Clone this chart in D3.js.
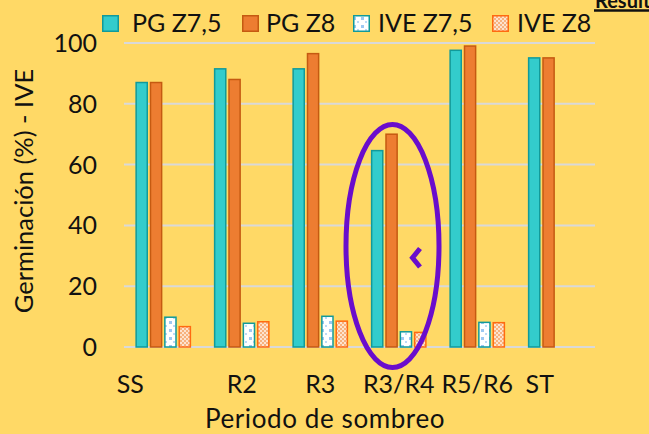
<!DOCTYPE html>
<html>
<head>
<meta charset="utf-8">
<script src="https://cdn.jsdelivr.net/npm/d3@7"></script>
<style>
  html, body { margin: 0; padding: 0; background: #FFD966; overflow: hidden; }
  svg { display: block; font-family: Lato, "Noto Sans", sans-serif; }
</style>
</head>
<body>
<div id="chart"></div>
<script>
// categories and series
const periods = ['SS', 'R2', 'R3', 'R3/R4', 'R5/R6', 'ST'];
const seriesNames = ['PG Z7,5', 'PG Z8', 'IVE Z7,5', 'IVE Z8'];
const pgZ75 = [87, 91.5, 91.5, 64.6, 97.6, 95.1];
const pgZ8 = [87, 88, 96.5, 70, 99, 95.1];
const iveZ75 = [9.8, 7.8, 10.1, 5.0, 8.1, null];
const iveZ8 = [6.7, 8.3, 8.5, 4.8, 8.0, null];
const yTicks = [0, 20, 40, 60, 80, 100];

const width = 649, height = 434;
const margin = {top: 43, right: 54, bottom: 87, left: 124};

const svg = d3.select('#chart').append('svg')
    .attr('width', width)
    .attr('height', height);

svg.append('rect').attr('width', width).attr('height', height).attr('fill', '#FFD966');

// patterns for the IVE series
const defs = svg.append('defs');
const pBlue = defs.append('pattern').attr('id', 'pat-blue')
    .attr('patternUnits', 'userSpaceOnUse').attr('width', 8).attr('height', 8);
pBlue.append('rect').attr('width', 8).attr('height', 8).attr('fill', '#ffffff');
pBlue.append('rect').attr('x', 1).attr('y', 1).attr('width', 3).attr('height', 3).attr('fill', '#9dc8f2');
pBlue.append('rect').attr('x', 5).attr('y', 5).attr('width', 2).attr('height', 2).attr('fill', '#bcd9f6');
const pOrange = defs.append('pattern').attr('id', 'pat-orange')
    .attr('patternUnits', 'userSpaceOnUse').attr('width', 4).attr('height', 4);
pOrange.append('rect').attr('width', 4).attr('height', 4).attr('fill', '#fde3cf');
pOrange.append('rect').attr('width', 2).attr('height', 2).attr('fill', '#f7b27e');
pOrange.append('rect').attr('x', 2).attr('y', 2).attr('width', 2).attr('height', 2).attr('fill', '#f7b27e');

const fills = ['#33CCCC', '#ED7D31', 'url(#pat-blue)', 'url(#pat-orange)'];
const strokes = ['#119a9a', '#c55a11', '#119a9a', '#ff6a10'];

const x0 = d3.scaleBand().domain(periods)
    .range([margin.left, width - margin.right])
    .paddingInner(0.29).paddingOuter(0.145);
const x1 = d3.scaleBand().domain(seriesNames)
    .range([0, x0.bandwidth()]).paddingInner(0.12);
const y = d3.scaleLinear().domain([0, 100]).range([height - margin.bottom, margin.top]);

// gridlines
svg.append('g').selectAll('line').data(yTicks).enter().append('line')
    .attr('x1', margin.left).attr('x2', width - margin.right)
    .attr('y1', d => y(d)).attr('y2', d => y(d))
    .attr('stroke', '#d9d9d9').attr('stroke-width', 2);

// y tick labels
svg.append('g').selectAll('text').data(yTicks).enter().append('text')
    .attr('x', 97).attr('y', d => y(d))
    .attr('dy', '0.36em')
    .attr('text-anchor', 'end')
    .attr('font-size', 25)
    .attr('fill', '#111')
    .text(d => d);

const allSeries = [pgZ75, pgZ8, iveZ75, iveZ8];
const rows = [];
periods.forEach((p, i) => {
    allSeries.forEach((s, j) => {
        if (s[i] != null) rows.push({period: p, series: seriesNames[j], k: j, value: s[i]});
    });
});

svg.append('g').selectAll('rect').data(rows).enter().append('rect')
    .attr('x', d => x0(d.period) + x1(d.series) + 0.75)
    .attr('y', d => y(d.value))
    .attr('width', x1.bandwidth() - 1.5)
    .attr('height', d => y(0) - y(d.value))
    .attr('fill', d => fills[d.k])
    .attr('stroke', d => strokes[d.k])
    .attr('stroke-width', 1.5);

// x tick labels (Excel squeezed the end labels inward)
const labelShift = {SS: -33, ST: -16};
svg.append('g').selectAll('text').data(periods).enter().append('text')
    .attr('x', d => x0(d) + x0.bandwidth() / 2 + (labelShift[d] || 0))
    .attr('y', 393)
    .attr('text-anchor', 'middle')
    .attr('font-size', 25)
    .attr('fill', '#111')
    .text(d => d);

// axis titles
svg.append('text')
    .attr('x', 325).attr('y', 428)
    .attr('text-anchor', 'middle')
    .attr('font-size', 26)
    .attr('letter-spacing', 0.6)
    .attr('fill', '#111')
    .text('Periodo de sombreo');
svg.append('text')
    .attr('transform', 'translate(33,191) rotate(-90)')
    .attr('text-anchor', 'middle')
    .attr('font-size', 25.5)
    .attr('fill', '#111')
    .text('Germinación (%) - IVE');

// legend
const legendBox = [102, 242, 353, 492];
const legendText = [132, 266, 378, 517];
const legend = svg.append('g').selectAll('g').data(seriesNames).enter().append('g');
legend.append('rect')
    .attr('x', (d, i) => legendBox[i] + 0.75).attr('y', 15.75)
    .attr('width', 15.5).attr('height', 15.5)
    .attr('fill', (d, i) => fills[i])
    .attr('stroke', (d, i) => strokes[i])
    .attr('stroke-width', 1.5);
legend.append('text')
    .attr('x', (d, i) => legendText[i]).attr('y', 32)
    .attr('font-size', 25)
    .attr('fill', '#111')
    .text(d => d);

// highlight around R3/R4
svg.append('ellipse')
    .attr('cx', 392.5).attr('cy', 246).attr('rx', 46.5).attr('ry', 121.5)
    .attr('fill', 'none').attr('stroke', '#6a0dcc').attr('stroke-width', 5);
svg.append('path')
    .attr('d', 'M420,248.5 L412.5,257.8 L420,267')
    .attr('fill', 'none').attr('stroke', '#6a0dcc')
    .attr('stroke-width', 5).attr('stroke-linejoin', 'miter');

// cut-off slide title in the corner
svg.append('text')
    .attr('x', 595).attr('y', 7.5)
    .attr('font-size', 20).attr('font-weight', 'bold')
    .attr('fill', '#111')
    .text('Resultados');
svg.append('line')
    .attr('x1', 594).attr('x2', 649).attr('y1', 10.5).attr('y2', 10.5)
    .attr('stroke', '#111').attr('stroke-width', 2.4);
</script>
</body>
</html>
